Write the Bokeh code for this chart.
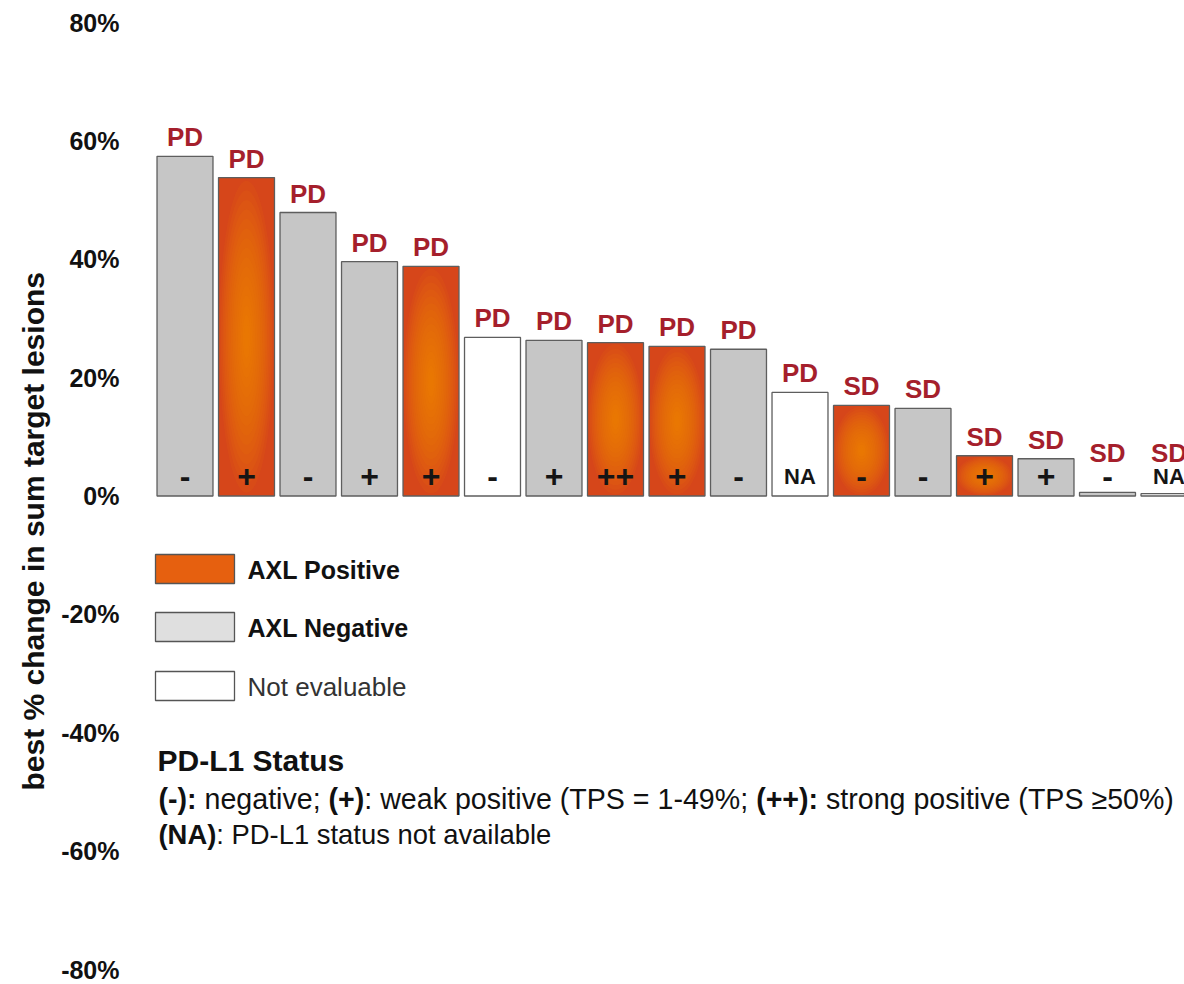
import numpy as np
from bokeh.plotting import figure
from bokeh.models import ColumnDataSource, Range1d, FixedTicker, Label, BoxAnnotation, Title
from bokeh.core.properties import value
from bokeh.embed import file_html
from bokeh.resources import INLINE

# ---------------- data ----------------
patients = ["1", "2", "3", "4", "5", "6", "7", "8", "9", "10", "11", "12", "13", "14", "15", "16", "17"]
best_change = [57.4, 53.8, 47.9, 39.6, 38.8, 26.8, 26.3, 25.9, 25.3, 24.8, 17.5, 15.3, 14.8, 6.8, 6.3, 0.6, 0.4]
axl_status = ["neg", "pos", "neg", "neg", "pos", "ne", "neg", "pos", "pos", "neg", "ne", "pos", "neg", "pos", "neg", "neg", "ne"]
pdl1_status = ["-", "+", "-", "+", "+", "-", "+", "++", "+", "-", "NA", "-", "-", "+", "+", "-", "NA"]
response = ["PD", "PD", "PD", "PD", "PD", "PD", "PD", "PD", "PD", "PD", "PD", "SD", "SD", "SD", "SD", "SD", "SD"]
tick_values = [-80, -60, -40, -20, 0, 20, 40, 60, 80]
tick_labels = ["-80%", "-60%", "-40%", "-20%", "0%", "20%", "40%", "60%", "80%"]
legend_labels = ["AXL Positive", "AXL Negative", "Not evaluable"]
y_title = "best % change in sum target lesions"
pdl1_title = "PD-L1 Status"
pdl1_line1 = [("(-):", True), (" negative; ", False), ("(+)", True),
              (": weak positive (TPS = 1-49%; ", False), ("(++):", True),
              (" strong positive (TPS \u226550%)", False)]
pdl1_line2 = [("(NA)", True), (": PD-L1 status not available", False)]

# ---------------- styles ----------------
FILL = {"pos": "#D6461A", "neg": "#C6C6C6", "ne": "#FFFFFF"}
GLOW = "#F58C00"
OUTLINE = "#5E5E5E"
RESP_COLOR = "#A51F2C"
SANS = "Liberation Sans"
BAR_W = 0.91
PX_PER_PCT = 5.919

W, H = 1184, 984
LEFT = 150
p = figure(width=W, height=H, output_backend="svg", toolbar_location=None,
           x_range=Range1d(0.439, 17.252), y_range=Range1d(-82.53, 83.72),
           x_axis_location=None,
           min_border_left=LEFT, min_border_right=0, min_border_top=0, min_border_bottom=0)
p.grid.visible = False
p.outline_line_color = None
p.background_fill_color = "white"
p.border_fill_color = "white"

xs = list(range(1, len(patients) + 1))
src = ColumnDataSource(dict(
    x=xs, top=best_change,
    fill=[FILL[a] for a in axl_status],
    resp=response,
    resp_y=[max(v, 4.0) + 19.0 / PX_PER_PCT for v in best_change],
    sym=pdl1_status,
    sym_y=[3.3] * len(xs),
    sym_size=["22px" if s == "NA" else "32px" for s in pdl1_status],
))

p.vbar(x="x", top="top", bottom=0, width=BAR_W, source=src,
       fill_color="fill", line_color=OUTLINE, line_width=1.3)

# radial glow inside AXL-positive bars
gx, gy, gw, gh = [], [], [], []
for x, v, a in zip(xs, best_change, axl_status):
    if a != "pos":
        continue
    for f in np.linspace(1.0, 0.08, 16):
        gx.append(x); gy.append(v / 2.0)
        gw.append(BAR_W * f * 0.98); gh.append(v * f * 0.98)
p.ellipse(x=gx, y=gy, width=gw, height=gh, fill_color=GLOW, fill_alpha=0.085, line_color=None)

# response labels
p.text(x="x", y="resp_y", text="resp", source=src,
       text_align="center", text_baseline="middle",
       text_font=value(SANS), text_font_style="bold", text_font_size="26px",
       text_color=RESP_COLOR)

# PD-L1 symbols
p.text(x="x", y="sym_y", text="sym", source=src,
       text_align="center", text_baseline="middle",
       text_font=value(SANS), text_font_style="bold", text_font_size="sym_size",
       text_color="#151515")

# ---------------- axis ----------------
ax = p.yaxis[0]
ax.ticker = FixedTicker(ticks=tick_values)
ax.major_label_overrides = {v: l for v, l in zip(tick_values, tick_labels)}
ax.axis_line_color = None
ax.major_tick_line_color = None
ax.minor_tick_line_color = None
ax.major_tick_in = 0
ax.major_tick_out = 0
ax.major_label_text_font = SANS
ax.major_label_text_font_style = "bold"
ax.major_label_text_font_size = "25px"
ax.major_label_text_color = "#111111"
ax.major_label_standoff = 31

p.add_layout(Title(text=y_title, align="left", offset=194, standoff=18,
                   text_font=SANS, text_font_style="bold", text_font_size="30px",
                   text_color="#111111"), "left")

# frame-relative screen coordinates (frame left = page x 150, frame bottom = page y 984)
FL, FB = LEFT, H
def sx(px):
    return px - FL
def sy(py):
    return FB - py

# ---------------- legend ----------------
sw_fill = ["#E6600F", "#DFDFDF", "#FFFFFF"]
sw_top = [554, 612, 671]
for lab, col, t, bold in zip(legend_labels, sw_fill, sw_top, [True, True, False]):
    p.add_layout(BoxAnnotation(left=sx(155), right=sx(234), top=sy(t), bottom=sy(t + 29),
                               left_units="screen", right_units="screen",
                               top_units="screen", bottom_units="screen",
                               fill_color=col, fill_alpha=1.0, line_color="#555555",
                               line_width=1.3, line_alpha=1.0))
    p.add_layout(Label(x=sx(247), y=sy(t + 15.5), x_units="screen", y_units="screen", text=lab,
                       text_align="left", text_baseline="middle",
                       text_font=SANS, text_font_style="bold" if bold else "normal",
                       text_font_size="25px" if bold else "26px",
                       text_color="#111111" if bold else "#333333"))

# ---------------- PD-L1 notes ----------------
REG = {' ': 278, '(': 333, ')': 333, '-': 333, ':': 278, ';': 278, '+': 584, '%': 889, '=': 584,
       '\u2265': 549, 'a': 556, 'b': 556, 'c': 500, 'd': 556, 'e': 556, 'g': 556, 'h': 556, 'i': 222,
       'k': 500, 'l': 222, 'n': 556, 'o': 556, 'p': 556, 'r': 333, 's': 500, 't': 278, 'u': 556,
       'v': 500, 'w': 722, 'y': 500, 'A': 667, 'D': 722, 'L': 556, 'N': 722, 'P': 667, 'S': 667,
       'T': 611}
BOLD = {' ': 278, '(': 333, ')': 333, '-': 333, ':': 333, '+': 584, 'N': 722, 'A': 722}

def tw(s, bold, size):
    table = BOLD if bold else REG
    return sum(table.get(c, 556) for c in s) / 1000.0 * size

p.add_layout(Label(x=sx(157), y=sy(760), x_units="screen", y_units="screen", text=pdl1_title,
                   text_align="left", text_baseline="middle",
                   text_font=SANS, text_font_style="bold", text_font_size="30px",
                   text_color="#111111"))

for segs, center, size in [(pdl1_line1, 798, 28.6), (pdl1_line2, 834, 27.4)]:
    x = 158.0
    for s, bold in segs:
        lead = len(s) - len(s.lstrip(' '))
        p.add_layout(Label(x=sx(x + lead * 0.278 * size), y=sy(center),
                           x_units="screen", y_units="screen", text=s.strip(),
                           text_align="left", text_baseline="middle",
                           text_font=SANS, text_font_style="bold" if bold else "normal",
                           text_font_size=f"{size}px", text_color="#111111"))
        x += tw(s, bold, size)

open("out.html", "w").write(file_html(p, INLINE))
